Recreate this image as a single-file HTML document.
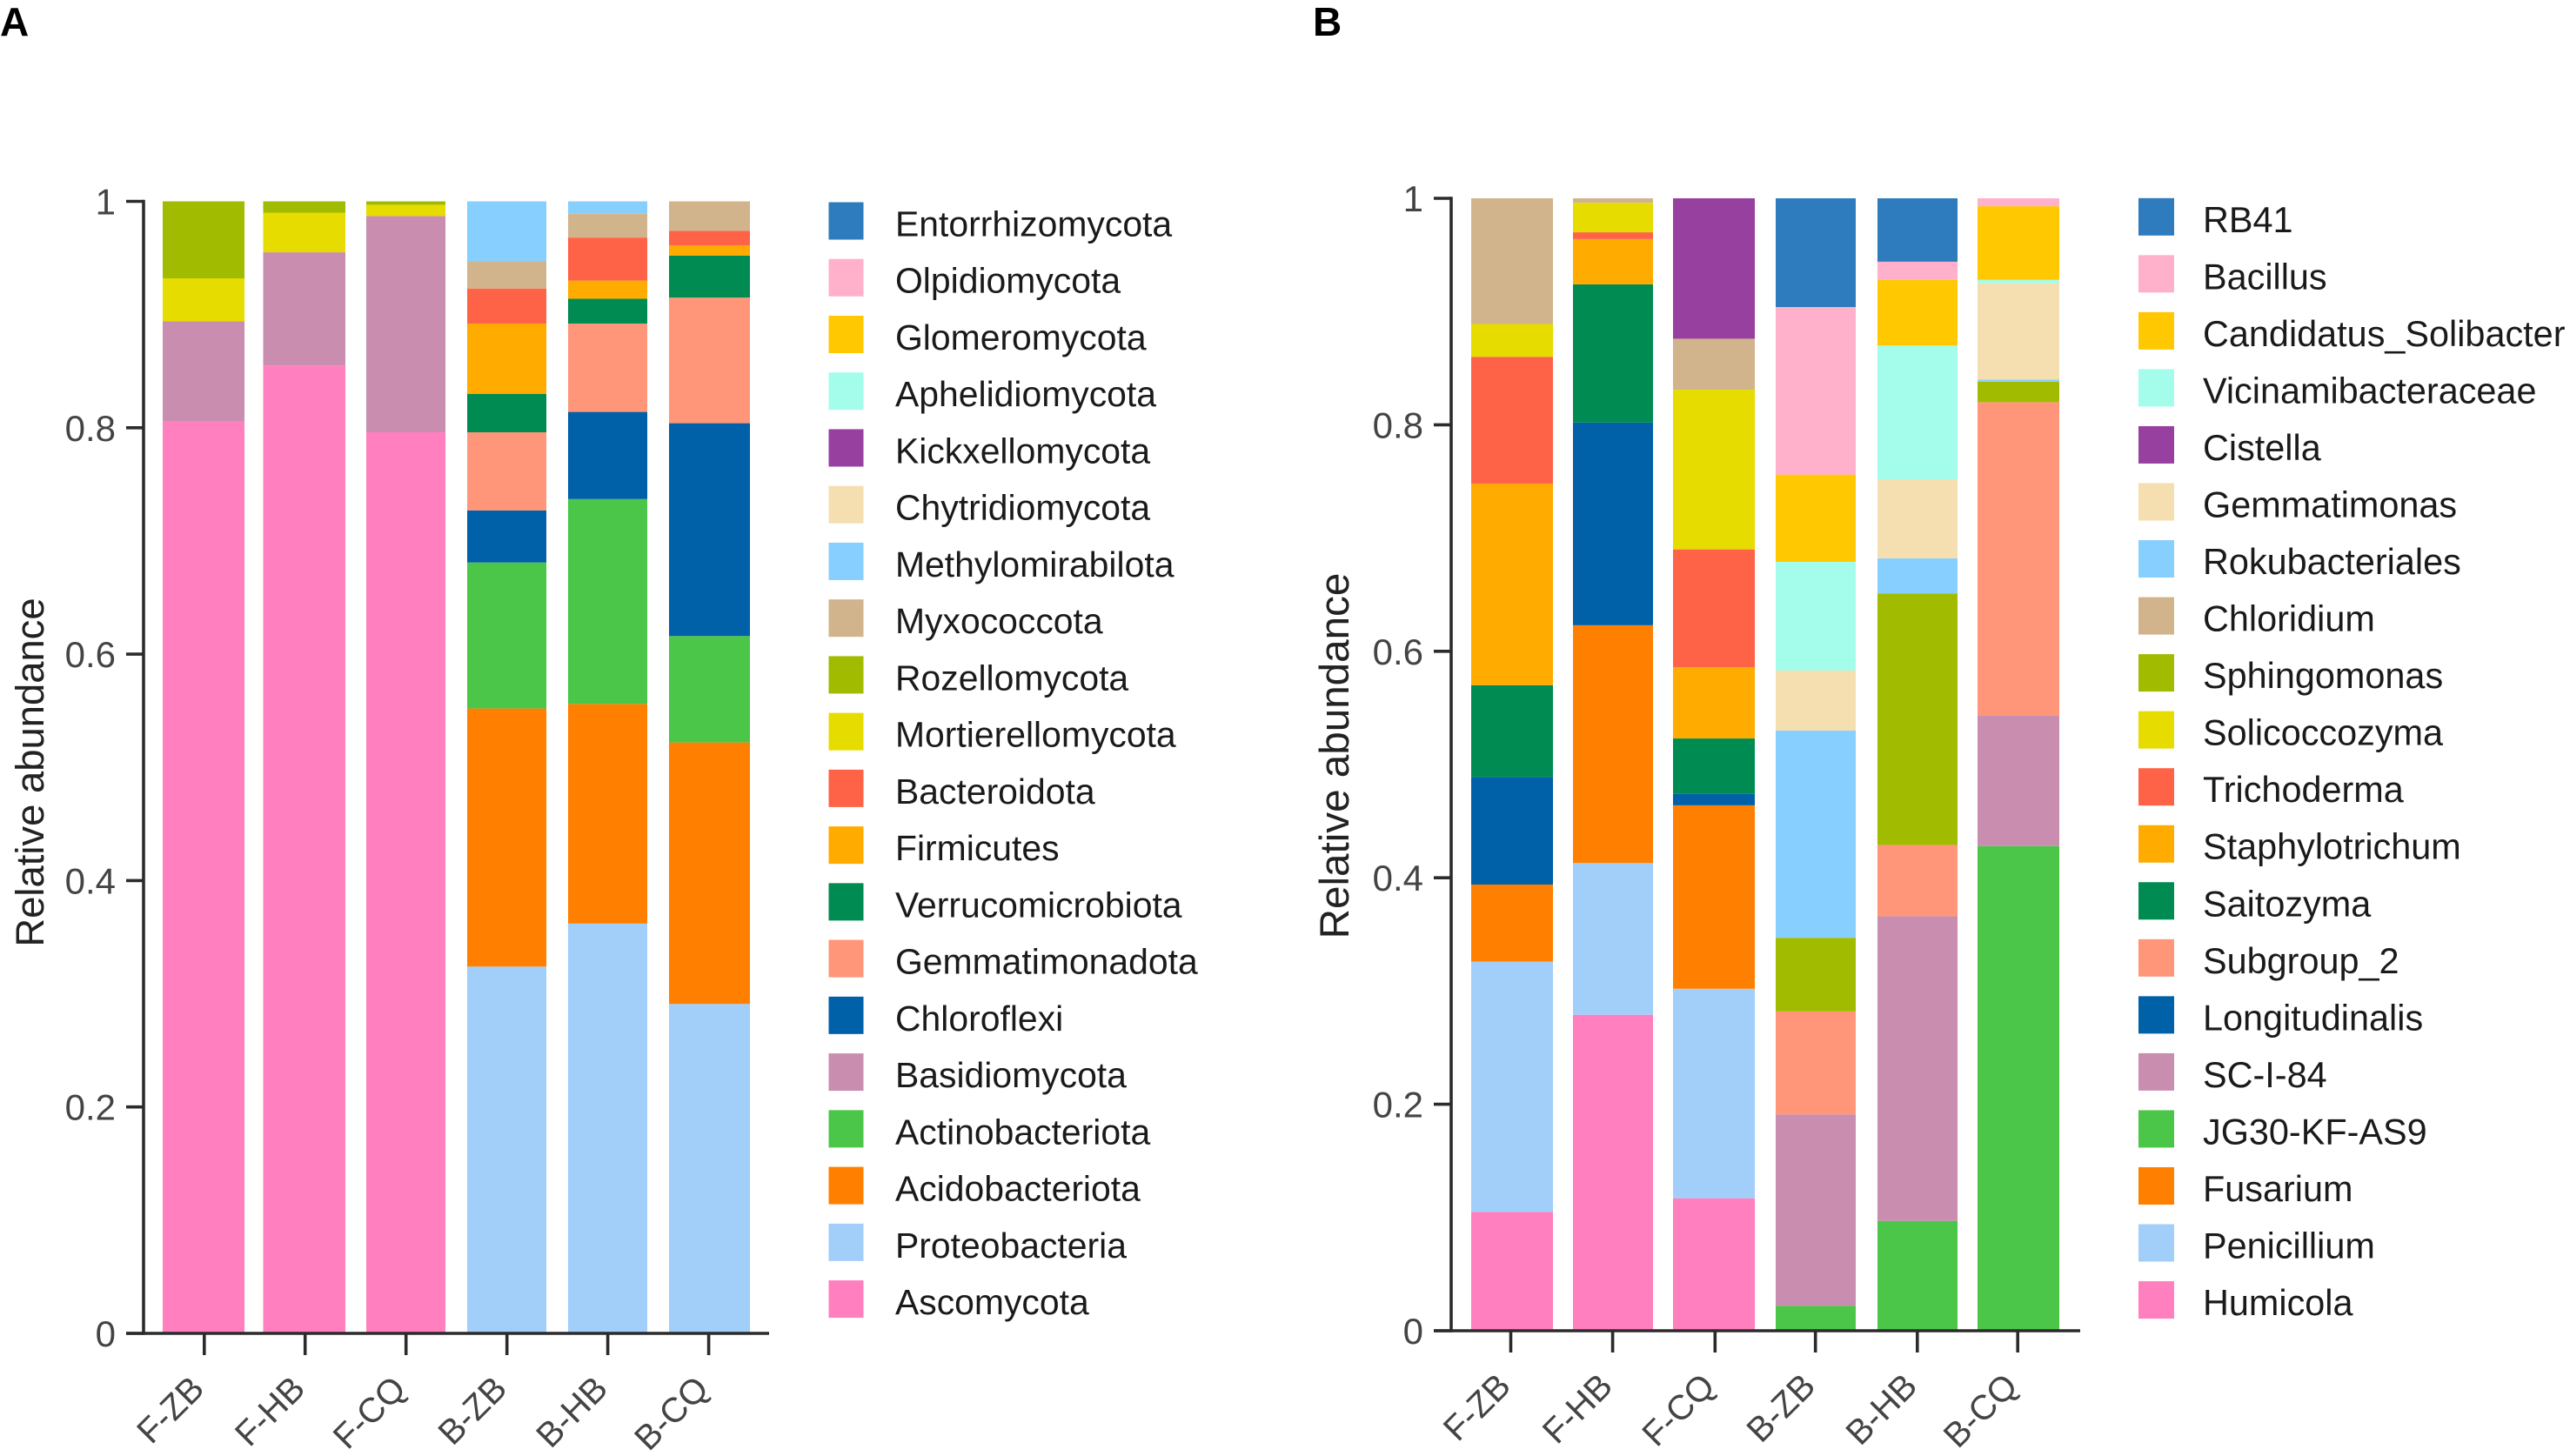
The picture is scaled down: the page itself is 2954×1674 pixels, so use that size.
<!DOCTYPE html>
<html>
<head>
<meta charset="utf-8">
<title>Relative abundance stacked bars</title>
<style>
html,body{margin:0;padding:0;background:#fff;width:2954px;height:1674px;overflow:hidden}
svg{display:block;font-family:"Liberation Sans",sans-serif}
</style>
</head>
<body>
<svg id="figure" xmlns="http://www.w3.org/2000/svg" width="2954" height="1674" viewBox="0 0 2954 1674">
<rect width="2954" height="1674" fill="#fff"/>
<text x="0" y="41" font-size="46" font-weight="bold" fill="#000">A</text>
<text x="1509" y="41" font-size="46" font-weight="bold" fill="#000">B</text>
</svg>
<script>
const categories = ["F-ZB","F-HB","F-CQ","B-ZB","B-HB","B-CQ"];
const yTicks = [0,0.2,0.4,0.6,0.8,1];
const yTitle = "Relative abundance";

// Panel A: phylum series, values per category, bottom of the stack first
const ascomycota        = [0.806,0.855,0.796,0,0,0];
const proteobacteria    = [0,0,0,0.324,0.362,0.291];
const acidobacteriota   = [0,0,0,0.228,0.194,0.231];
const actinobacteriota  = [0,0,0,0.129,0.181,0.094];
const basidiomycota     = [0.088,0.100,0.191,0,0,0];
const chloroflexi       = [0,0,0,0.046,0.077,0.188];
const gemmatimonadota   = [0,0,0,0.069,0.078,0.111];
const verrucomicrobiota = [0,0,0,0.034,0.022,0.037];
const firmicutes        = [0,0,0,0.062,0.016,0.009];
const bacteroidota      = [0,0,0,0.031,0.038,0.013];
const mortierellomycota = [0.038,0.035,0.010,0,0,0];
const rozellomycota     = [0.068,0.010,0.003,0,0,0];
const myxococcota       = [0,0,0,0.024,0.021,0.026];
const methylomirabilota = [0,0,0,0.053,0.011,0];
const chytridiomycota   = [0,0,0,0,0,0];
const kickxellomycota   = [0,0,0,0,0,0];
const aphelidiomycota   = [0,0,0,0,0,0];
const glomeromycota     = [0,0,0,0,0,0];
const olpidiomycota     = [0,0,0,0,0,0];
const entorrhizomycota  = [0,0,0,0,0,0];
const phylumNames = ["Ascomycota","Proteobacteria","Acidobacteriota","Actinobacteriota","Basidiomycota","Chloroflexi","Gemmatimonadota","Verrucomicrobiota","Firmicutes","Bacteroidota","Mortierellomycota","Rozellomycota","Myxococcota","Methylomirabilota","Chytridiomycota","Kickxellomycota","Aphelidiomycota","Glomeromycota","Olpidiomycota","Entorrhizomycota"];
const phylumSeries = [ascomycota,proteobacteria,acidobacteriota,actinobacteriota,basidiomycota,chloroflexi,gemmatimonadota,verrucomicrobiota,firmicutes,bacteroidota,mortierellomycota,rozellomycota,myxococcota,methylomirabilota,chytridiomycota,kickxellomycota,aphelidiomycota,glomeromycota,olpidiomycota,entorrhizomycota];

// Panel B: genus series, values per category, bottom of the stack first
const humicola       = [0.105,0.279,0.117,0,0,0];
const penicillium    = [0.221,0.134,0.185,0,0,0];
const fusarium       = [0.068,0.210,0.162,0,0,0];
const jg30KfAs9      = [0,0,0,0.022,0.097,0.428];
const scI84          = [0,0,0,0.169,0.269,0.115];
const longitudinalis = [0.095,0.179,0.010,0,0,0];
const subgroup2      = [0,0,0,0.091,0.063,0.277];
const saitozyma      = [0.081,0.122,0.049,0,0,0];
const staphylotrichum= [0.178,0.040,0.063,0,0,0];
const trichoderma    = [0.112,0.006,0.104,0,0,0];
const solicoccozyma  = [0.029,0.026,0.141,0,0,0];
const sphingomonas   = [0,0,0,0.065,0.222,0.018];
const chloridium     = [0.111,0.004,0.045,0,0,0];
const rokubacteriales= [0,0,0,0.183,0.031,0.002];
const gemmatimonas   = [0,0,0,0.053,0.070,0.085];
const cistella       = [0,0,0.124,0,0,0];
const vicinamibacteraceae = [0,0,0,0.096,0.118,0.003];
const candidatusSolibacter = [0,0,0,0.077,0.058,0.065];
const bacillus       = [0,0,0,0.148,0.016,0.007];
const rb41           = [0,0,0,0.096,0.056,0];
const genusNames = ["Humicola","Penicillium","Fusarium","JG30-KF-AS9","SC-I-84","Longitudinalis","Subgroup_2","Saitozyma","Staphylotrichum","Trichoderma","Solicoccozyma","Sphingomonas","Chloridium","Rokubacteriales","Gemmatimonas","Cistella","Vicinamibacteraceae","Candidatus_Solibacter","Bacillus","RB41"];
const genusSeries = [humicola,penicillium,fusarium,jg30KfAs9,scI84,longitudinalis,subgroup2,saitozyma,staphylotrichum,trichoderma,solicoccozyma,sphingomonas,chloridium,rokubacteriales,gemmatimonas,cistella,vicinamibacteraceae,candidatusSolibacter,bacillus,rb41];

const palette = ["#ff7fbf","#a2cefa","#ff8000","#4cc648","#c98db0","#0060a8","#ff967a","#008b52","#ffab00","#ff6347","#e6dc00","#a0bb00","#d2b48c","#87cffe","#f5deb0","#98409f","#a4fcea","#ffc800","#ffb0cb","#2e7bbd"];

const NS = "http://www.w3.org/2000/svg";
const root = document.getElementById("figure");

function el(tag, attrs, parent, text){
  const node = document.createElementNS(NS, tag);
  for (const k in attrs) node.setAttribute(k, attrs[k]);
  if (text !== undefined) node.textContent = text;
  parent.appendChild(node);
  return node;
}
function slug(s){ return s.toLowerCase().replace(/[^a-z0-9]+/g,"-"); }

function drawPanel(p){
  const g = el("g", {}, root);
  
  
  const yScale = v => p.y0 - v * (p.y0 - p.y1);

  // stacked bars
  categories.forEach((cat, c) => {
    const barGroup = el("g", {}, g);
    
    
    let base = 0;
    p.series.forEach((vals, s) => {
      const v = vals[c];
      if (v > 0) {
        const rect = el("rect", {x:p.barLeft[c], width:p.barW[c], y:yScale(base+v), height:yScale(base)-yScale(base+v), fill:palette[s]}, barGroup);
        
        
      }
      base += v;
    });
  });

  // axes
  const yAxis = el("line", {x1:p.axisX, x2:p.axisX, y1:p.y1-1.8, y2:p.y0+1.8, stroke:"#2b2b2b", "stroke-width":3.6}, g);
  
  
  const xAxis = el("line", {x1:p.axisX-20, x2:p.axisEnd, y1:p.y0, y2:p.y0, stroke:"#2b2b2b", "stroke-width":3.6}, g);
  
  

  yTicks.forEach(t => {
    const y = yScale(t);
    const tick = el("line", {x1:p.axisX-20, x2:p.axisX, y1:y, y2:y, stroke:"#2b2b2b", "stroke-width":3.6}, g);
    
    
    const label = el("text", {x:p.axisX-32, y:y+15, "text-anchor":"end", "font-size":42, fill:"#444"}, g, String(t));
    
    
  });

  categories.forEach((cat, c) => {
    const x = p.tickX[c];
    const tick = el("line", {x1:x, x2:x, y1:p.y0, y2:p.y0+25, stroke:"#2b2b2b", "stroke-width":3.6}, g);
    
    
    const lx = x + 2, ly = p.y0 + 66;
    const label = el("text", {x:lx, y:ly, "text-anchor":"end", "font-size":40, fill:"#444", transform:"rotate(-45 "+lx+" "+ly+")"}, g, cat);
    
    
  });

  const title = el("text", {x:p.titleX, y:p.titleY, "text-anchor":"middle", "font-size":p.titleSize, fill:"#222", transform:"rotate(-90 "+p.titleX+" "+p.titleY+")"}, g, yTitle);
  
  

  // legend: first series sits at the bottom row
  const n = p.names.length;
  const legend = el("g", {}, g);
  
  
  p.names.forEach((name, s) => {
    const row = n - 1 - s;
    const cy = p.legY + row * p.legStep;
    const entry = el("g", {}, legend);
    
    
    const swatch = el("rect", {x:p.swX, y:cy-21.5, width:p.swW, height:43, fill:palette[s]}, entry);
    
    
    const text = el("text", {x:p.legTextX, y:cy+p.legBase, "font-size":p.legSize, fill:"#1a1a1a"}, entry, name);
    
    
  });
}

drawPanel({
  id:"panel-a", names:phylumNames, series:phylumSeries,
  y0:1533, y1:231.5, axisX:165, axisEnd:884,
  tickX:[234.8,350.7,466.7,582.7,698.6,814.6],
  barLeft:[187,302.5,421,537,653,769], barW:[94,94.5,91,91,91,93],
  titleX:50, titleY:888, titleSize:45.4,
  swX:952.5, swW:40, legY:254, legStep:65.24, legTextX:1029, legBase:17.5, legSize:40.9
});
drawPanel({
  id:"panel-b", names:genusNames, series:genusSeries,
  y0:1530, y1:228, axisX:1668, axisEnd:2391,
  tickX:[1736.5,1853.6,1971.3,2086.7,2203.8,2319.2],
  barLeft:[1691,1808,1923,2041,2158,2273], barW:[94,92,94,92,92,94],
  titleX:1550, titleY:869, titleSize:47.6,
  swX:2458, swW:41, legY:249.3, legStep:65.54, legTextX:2532, legBase:17.5, legSize:41.4
});
</script>
</body>
</html>
